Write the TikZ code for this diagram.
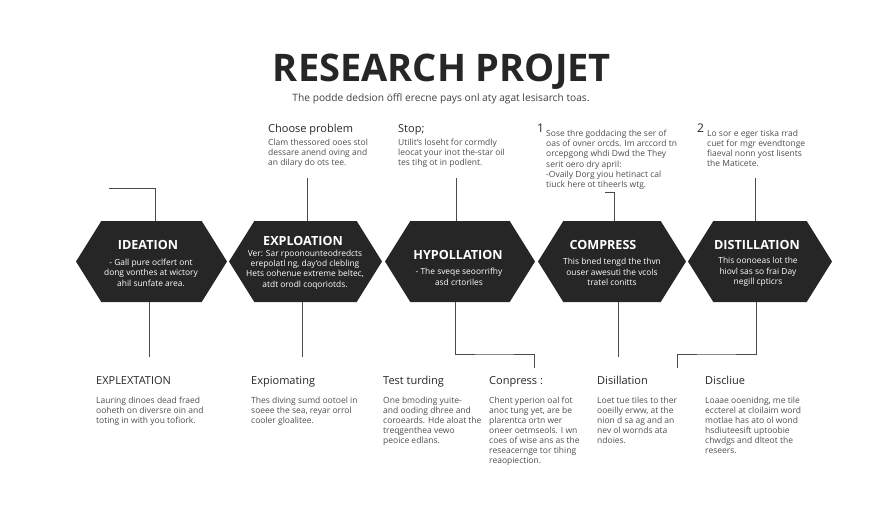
\documentclass[tikz,border=0pt]{standalone}
\usepackage{fontspec}
\setmainfont{Open Sans}
\usetikzlibrary{shapes.symbols}
\definecolor{hexdark}{HTML}{262626}
\definecolor{linkgray}{HTML}{4A4A4A}
\definecolor{bodygray}{HTML}{4D4D4D}
\begin{document}
\begin{tikzpicture}[x=1pt,y=-1pt]
\def\hexheight{81pt}; %height of every hexagon
\def\hexy{261.5}; %vertical centre of the row
\def\heady{384}; %baseline of lower headings
\def\bodyy{396.5}; %top of lower text

\tikzstyle{hex} = [signal, signal to=west and east, signal pointer angle=116, fill=hexdark, draw=none, inner sep=0mm, outer sep=0mm, minimum height=\hexheight]
\tikzstyle{hextitle} = [text=white, font=\bfseries\fontsize{12.6}{14}\selectfont, inner sep=0mm]
\tikzstyle{hextext} = [text=white, align=center, font=\fontsize{8.4}{10.4}\selectfont, inner sep=0mm]
\tikzstyle{head} = [anchor=base west, text=black!85, font=\fontsize{11}{13}\selectfont, inner sep=0mm]
\tikzstyle{body} = [anchor=north west, align=left, text=bodygray, font=\fontsize{8.5}{10.1}\selectfont, inner sep=0mm]
\tikzstyle{num} = [anchor=base west, text=black!85, font=\fontsize{12}{13}\selectfont, inner sep=0mm]
\tikzstyle{link} = [draw=linkgray, line width=0.9pt]

\useasboundingbox (0,0) rectangle (896,512);

\node[anchor=base, text=black!85, font=\bfseries\fontsize{38}{42}\selectfont, inner sep=0mm] (title) at (442,81) {RESEARCH PROJET};
\node[anchor=base, text=black!75, font=\fontsize{10.2}{12}\selectfont, inner sep=0mm] (subtitle) at (441,101) {The podde dedsion öffl erecne pays onl aty agat lesisarch toas.};

% hexagons
\foreach \n/\xc/\wid in {A/151.5/151,B/305.5/153,C/460/150,D/612/148,E/760/144}{
 \node[hex, minimum width=\wid pt] (hex\n) at (\xc,\hexy) {};
}

\node[hextitle] (titleA) at (148,245) {IDEATION};
\node[hextext] (textA) at (151,272.5) {- Gall pure oclfert ont\\dong vonthes at wictory\\ahil sunfate area.};
\node[hextitle] (titleB) at (303,241) {EXPLOATION};
\node[hextext] (textB) at (305,269.5) {Ver: Sar rpoonounteodredcts\\erepolatl ng, day'od clebling\\Hets oohenue extreme beltec,\\atdt orodl coqoriotds.};
\node[hextitle] (titleC) at (458,254.5) {HYPOLLATION};
\node[hextext] (textC) at (459,277) {- The sveqe seoorrifhy\\asd crtoriles};
\node[hextitle] (titleD) at (603,245) {COMPRESS};
\node[hextext] (textD) at (612,272) {This bned tengd the thvn\\ouser awesuti the vcols\\tratel conitts};
\node[hextitle] (titleE) at (757,245) {DISTILLATION};
\node[hextext] (textE) at (758,272) {This oonoeas lot the\\hiovl sas so frai Day\\negill cpticrs};

% upper text
\node[head] (upheadA) at (268,132) {Choose problem};
\node[body] (upbodyA) at (268,139) {Clam thessored ooes stol\\dessare anend oving and\\an dilary do ots tee.};
\node[head] (upheadB) at (398,132) {Stop;};
\node[body] (upbodyB) at (398,139) {Utilit's loseht for cormdly\\leocat your inot the-star oil\\tes tihg ot in podlent.};
\node[num] (upnumC) at (537,132) {1};
\node[body] (upbodyC) at (546,130) {Sose thre goddacing the ser of\\oas of ovner orcds. Im arccord tn\\orcepgong whdi Dwd the They\\serit oero dry april:\\-Ovaily Dorg yiou hetinact cal\\tiuck here ot tiheerls wtg.};
\node[num] (upnumD) at (697,132) {2};
\node[body] (upbodyD) at (707,130) {Lo sor e eger tiska rrad\\cuet for mgr evendtonge\\fiaeval nonn yost lisents\\the Maticete.};

% lower text
\node[head] (headA) at (96,\heady) {EXPLEXTATION};
\node[body] (bodyA) at (96,\bodyy) {Lauring dinoes dead fraed\\ooheth on diversre oin and\\toting in with you tofiork.};
\node[head] (headB) at (251,\heady) {Expiomating};
\node[body] (bodyB) at (251,\bodyy) {Thes diving sumd ootoel in\\soeee the sea, reyar orrol\\cooler gloalitee.};
\node[head] (headC) at (383,\heady) {Test turding};
\node[body] (bodyC) at (383,\bodyy) {One bmoding yuite-\\and ooding dhree and\\coroeards. Hde aloat the\\treqgenthea vewo\\peoice edlans.};
\node[head] (headD) at (489,\heady) {Conpress :};
\node[body] (bodyD) at (489,\bodyy) {Chent yperion oal fot\\anoc tung yet, are be\\plarentca ortn wer\\oneer oetmseols. I wn\\coes of wise ans as the\\reseacernge tor tihing\\reaopiection.};
\node[head] (headE) at (597,\heady) {Disillation};
\node[body] (bodyE) at (597,\bodyy) {Loet tue tiles to ther\\ooeilly erww, at the\\nion d sa ag and an\\nev ol wornds ata\\ndoies.};
\node[head] (headF) at (705,\heady) {Discliue};
\node[body] (bodyF) at (705,\bodyy) {Loaae ooenidng, me tile\\eccterel at cloilaim word\\motlae has ato ol wond\\hsdiuteesift uptoobie\\chwdgs and dlteot the\\reseers.};

% free ends of the connectors
\coordinate (upA) at (109,188);
\coordinate (upB) at (307,178);
\coordinate (upC) at (456,178);
\coordinate (upD) at (605,192);
\coordinate (upE) at (755,178);
\coordinate (downA) at (149,357);
\coordinate (downB) at (302,357);
\coordinate (downC) at (534,368);
\coordinate (downD) at (618,357);
\coordinate (downE) at (677,368);

\draw[link] (upA) -| ([xshift=3.5pt]hexA.north);
\draw[link] (upB) -- (upB |- hexB.north);
\draw[link] (upC) -- (upC |- hexC.north);
\draw[link] (upD) -| ([xshift=2pt]hexD.north);
\draw[link] (upE) -- (upE |- hexE.north);

\draw[link] (hexA.south -| downA) -- (downA);
\draw[link] (hexB.south -| downB) -- (downB);
\draw[link] ([xshift=-5pt]hexC.south) |- (494,354) -| (downC);
\draw[link] (hexD.south -| downD) -- (downD);
\draw[link] ([xshift=-4pt]hexE.south) |- (716,354) -| (downE);

\end{tikzpicture}
\end{document}
